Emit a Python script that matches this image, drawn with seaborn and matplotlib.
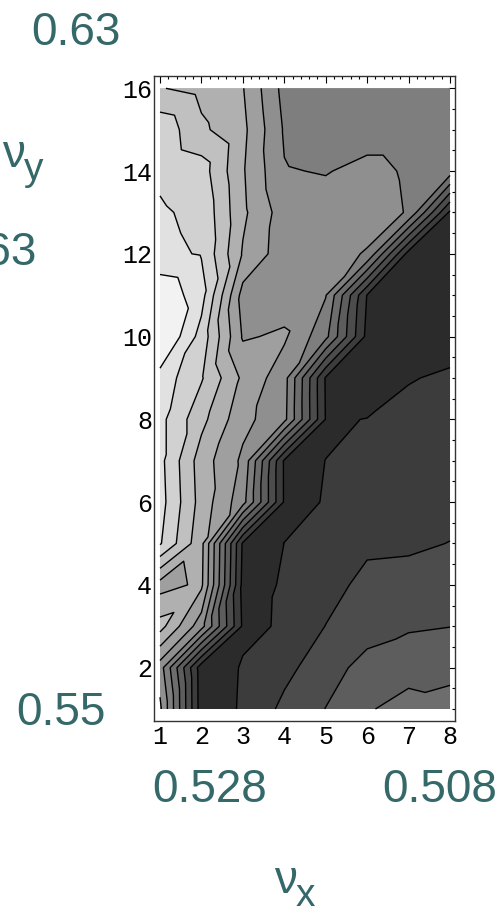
import numpy as np
import matplotlib
matplotlib.use("Agg")
import matplotlib.pyplot as plt
import matplotlib.tri as mtri
from matplotlib.ticker import MultipleLocator, FixedLocator
import seaborn as sns

# ---------------- data ----------------
x_values = [1, 2, 3, 4, 5, 6, 7, 8]
y_values = list(range(1, 17))

# value grid, one row per y (1 .. 16), columns x = 1 .. 8
z_y01 = [7.2, 0.45, 1.1, 2.25, 3.02, 3.95, 4.2, 4.4]
z_y02 = [6.5, 0.4, 1.07, 1.7, 2.6, 3.33, 3.8, 3.7]
z_y03 = [9.4, 6.4, 0.83, 1.08, 2.02, 2.6, 2.85, 2.98]
z_y04 = [7.6, 8.2, 0.7, 1.07, 1.6, 2.3, 2.35, 2.5]
z_y05 = [11.1, 8.3, 0.85, 1.003, 1.4, 1.8, 1.85, 2.02]
z_y06 = [11.4, 8.6, 6.4, 0.89, 1.018, 1.4, 1.6, 1.7]
z_y07 = [11.3, 8.5, 6.8, 0.88, 1.0025, 1.3, 1.4, 1.5]
z_y08 = [11.3, 9.3, 7.3, 6.3, 0.95, 1.01, 1.2, 1.3]
z_y09 = [11.6, 10.1, 7.8, 6.4, 0.9, 0.7, 0.96, 1.1]
z_y10 = [13.3, 10.6, 6.9, 7.15, 5.3, 0.7, 0.6, 0.7]
z_y11 = [12.8, 11.4, 6.6, 6.5, 6.05, 0.95, 0.5, 0.5]
z_y12 = [11.2, 10.94, 7.9, 6.42, 6.3, 5.94, 0.6, 0.5]
z_y13 = [11.1, 10.8, 8.2, 6.5, 6.4, 6.35, 5.95, 0.8]
z_y14 = [10.85, 10.47, 8.1, 6.05, 5.95, 6.25, 5.9, 5.5]
z_y15 = [10.7, 9.2, 8.25, 5.9, 5.6, 5.6, 5.6, 5.6]
z_y16 = [9.05, 8.7, 8.05, 5.67, 5.5, 5.5, 5.5, 5.5]

contour_levels = [1, 2, 3, 4, 5, 6, 7, 8, 9, 10, 11, 12]
x_ticks = [1, 2, 3, 4, 5, 6, 7, 8]
y_ticks = [2, 4, 6, 8, 10, 12, 14, 16]

# outside annotations: (text, x_px, baseline_px, ha)
outer_numbers = [("0.63", 31, 45, "left"),
                 ("0.63", 37, 265, "right"),
                 ("0.55", 16, 725, "left"),
                 ("0.528", 152, 802, "left"),
                 ("0.508", 382, 802, "left")]
axis_symbols = [("ν", "y", 2, 167, 24, 180),
                ("ν", "x", 274, 893, 296, 906)]

# ---------------- styling ----------------
sns.set_style("white")
plt.rcParams["font.family"] = ["Liberation Sans", "DejaVu Sans"]

W, H = 495, 906
fig = plt.figure(figsize=(W / 100, H / 100), dpi=100)
fig.patch.set_facecolor("white")

left_px, right_px, top_px, bottom_px = 154.3, 455.0, 75.7, 720.7
ax = fig.add_axes([left_px / W, 1 - bottom_px / H,
                   (right_px - left_px) / W, (bottom_px - top_px) / H])

# triangulated grid (cells split along the lower-left / upper-right diagonal)
X, Y = np.meshgrid(x_values, y_values)
Z = np.array([z_y01, z_y02, z_y03, z_y04, z_y05, z_y06, z_y07, z_y08,
              z_y09, z_y10, z_y11, z_y12, z_y13, z_y14, z_y15, z_y16])
nx, ny = len(x_values), len(y_values)
triangles = []
for j in range(ny - 1):
    for i in range(nx - 1):
        a = j * nx + i
        b = j * nx + i + 1
        c = (j + 1) * nx + i + 1
        d = (j + 1) * nx + i
        triangles.append([a, b, c])
        triangles.append([a, c, d])
tri = mtri.Triangulation(X.ravel(), Y.ravel(), np.array(triangles))

fill_levels = [-5] + contour_levels + [30]
nb = len(fill_levels) - 1
grays = [(43 + b * (242 - 43) / (nb - 1)) / 255 for b in range(nb)]
fill_colors = [(g, g, g) for g in grays]

for _ in range(2):
    ax.tricontourf(tri, Z.ravel(), levels=fill_levels, colors=fill_colors,
                   antialiased=True)
ax.tricontour(tri, Z.ravel(), levels=contour_levels, colors="black",
              linewidths=1.0)

ax.set_xlim(1 + (left_px - 160) / 41.43, 1 + (right_px - 160) / 41.43)
ax.set_ylim(1 - (bottom_px - 709) / 41.38, 16 + (88.3 - top_px) / 41.38)

for s in ax.spines.values():
    s.set_visible(True)
    s.set_color("#333333")
    s.set_linewidth(1.0)

ax.xaxis.set_major_locator(FixedLocator(x_ticks))
ax.xaxis.set_minor_locator(MultipleLocator(0.2))
ax.yaxis.set_major_locator(FixedLocator(y_ticks))
ax.yaxis.set_minor_locator(MultipleLocator(0.5))
ax.set_xticklabels([str(v) for v in x_ticks])
ax.set_yticklabels([str(v) for v in y_ticks])
ax.tick_params(which="both", direction="in", top=True, right=True,
               color="black", width=0.8)
ax.tick_params(which="major", length=5, pad=1.5)
ax.tick_params(which="minor", length=2.5)
ax.tick_params(axis="x", which="major", pad=3)
for lab in ax.get_xticklabels() + ax.get_yticklabels():
    lab.set_fontfamily(["Liberation Mono", "DejaVu Sans Mono"])
    lab.set_fontsize(18)
    lab.set_color("black")

teal = "#356868"
for txt, xp, yp, ha in outer_numbers:
    fig.text(xp / W, 1 - yp / H, txt, ha=ha, va="baseline",
             fontsize=33, color=teal)
for sym, sub, xs, ys, xb, yb in axis_symbols:
    fig.text(xs / W, 1 - ys / H, sym, ha="left", va="baseline",
             fontsize=33, color=teal)
    fig.text(xb / W, 1 - yb / H, sub, ha="left", va="baseline",
             fontsize=28, color=teal)

fig.savefig("out.png", dpi=100)
